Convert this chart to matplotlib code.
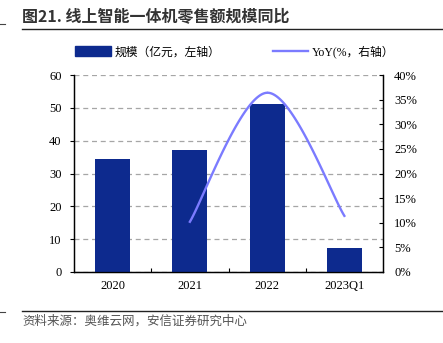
import numpy as np
import matplotlib
matplotlib.use('Agg')
from matplotlib import pyplot as plt
from matplotlib.lines import Line2D
from matplotlib.patches import Patch

categories = ['2020', '2021', '2022', '2023Q1']
scale = [34.3, 37.2, 51.3, 7.3]  # 亿元
yoy_cats = [1, 2, 3]  # YoY only from 2021 on
yoy = [10.2, 36.4, 11.4]  # %

BAR_COLOR = '#0d2a8e'
LINE_COLOR = '#7b7bff'
NUM_FONT = ['Liberation Serif', 'Noto Sans CJK SC']
CJK_FONT = ['Noto Sans CJK SC', 'DejaVu Sans']


def catmull_rom(xs, ys, n=60):
    """Smooth curve through the points, like the spreadsheet 'smoothed line'."""
    px = [xs[0]] + list(xs) + [xs[-1]]
    py = [ys[0]] + list(ys) + [ys[-1]]
    out_x, out_y = [], []
    for i in range(1, len(px) - 2):
        t = np.linspace(0, 1, n)
        for arr, out in ((px, out_x), (py, out_y)):
            p0, p1, p2, p3 = arr[i - 1], arr[i], arr[i + 1], arr[i + 2]
            out.extend(0.5 * (2 * p1 + (-p0 + p2) * t
                              + (2 * p0 - 5 * p1 + 4 * p2 - p3) * t ** 2
                              + (-p0 + 3 * p1 - 3 * p2 + p3) * t ** 3))
    return np.array(out_x), np.array(out_y)


fig = plt.figure(figsize=(4.43, 3.43), dpi=100)
ax = fig.add_axes([74 / 443, 1 - 272 / 343, 309 / 443, 197 / 343])
ax2 = ax.twinx()

x = np.arange(len(categories))
ax.bar(x, scale, width=0.45, color=BAR_COLOR, zorder=3)
ax.set_xlim(-0.5, len(categories) - 0.5)
ax.set_ylim(0, 60)
ax.set_yticks(range(0, 61, 10))
ax.yaxis.grid(True, linestyle=(0, (4, 3)), color='#a6a6a6', linewidth=0.9, zorder=0)
ax.set_axisbelow(True)

# category labels, ticks at category borders
ax.set_xticks(x)
ax.set_xticklabels(categories, fontfamily=NUM_FONT, fontsize=9)
ax.set_xticks(np.arange(0.5, len(categories) - 0.5), minor=True)
ax.tick_params(axis='x', which='major', length=0, pad=6)
ax.tick_params(axis='x', which='minor', direction='in', length=3, width=0.8)
ax.tick_params(axis='y', direction='out', length=3, width=0.8, pad=6)
for lab in ax.get_yticklabels():
    lab.set_fontfamily(NUM_FONT)
    lab.set_fontsize(9)

sx, sy = catmull_rom(yoy_cats, yoy)
ax2.plot(sx, sy, color=LINE_COLOR, linewidth=1.7, zorder=4)
ax2.set_ylim(0, 40)
ax2.set_yticks(range(0, 41, 5))
ax2.set_yticklabels(['%d%%' % v for v in range(0, 41, 5)], fontfamily=NUM_FONT, fontsize=9)
ax2.tick_params(axis='y', direction='in', length=3, width=0.8, pad=8)

for a in (ax, ax2):
    a.spines['top'].set_visible(False)
    for s in ('left', 'right', 'bottom'):
        a.spines[s].set_linewidth(0.9)
        a.spines[s].set_color('black')

handles = [Patch(facecolor=BAR_COLOR, edgecolor=BAR_COLOR),
           Line2D([0], [0], color=LINE_COLOR, linewidth=1.7)]
fig.legend(handles, ['规模（亿元，左轴）', 'YoY(%，右轴）'],
           loc='center', bbox_to_anchor=(0.53, 1 - 52 / 343), ncol=2, frameon=False,
           prop={'family': NUM_FONT, 'size': 8.5}, handlelength=3.0, handleheight=0.9,
           columnspacing=4.5, handletextpad=0.3)

# title and frame lines of the report page
fig.text(22 / 443, 1 - 16 / 343, '图21. 线上智能一体机零售额规模同比', fontfamily=CJK_FONT,
         fontsize=11.5, fontweight='bold', color='#333333', va='center')
fig.add_artist(Line2D([22 / 443, 1], [1 - 29 / 343] * 2, color='#222222', linewidth=1))
fig.add_artist(Line2D([0, 5 / 443], [1 - 24 / 343] * 2, color='#444444', linewidth=0.8))
fig.add_artist(Line2D([22 / 443, 1], [1 - 311 / 343] * 2, color='#222222', linewidth=1))
fig.add_artist(Line2D([0, 5 / 443], [1 - 312 / 343] * 2, color='#444444', linewidth=0.8))
fig.text(22 / 443, 1 - 321 / 343, '资料来源：奥维云网，安信证券研究中心', fontfamily=CJK_FONT,
         fontsize=9, style='italic', color='#555555', va='center')

fig.savefig('out.png', dpi=100)
